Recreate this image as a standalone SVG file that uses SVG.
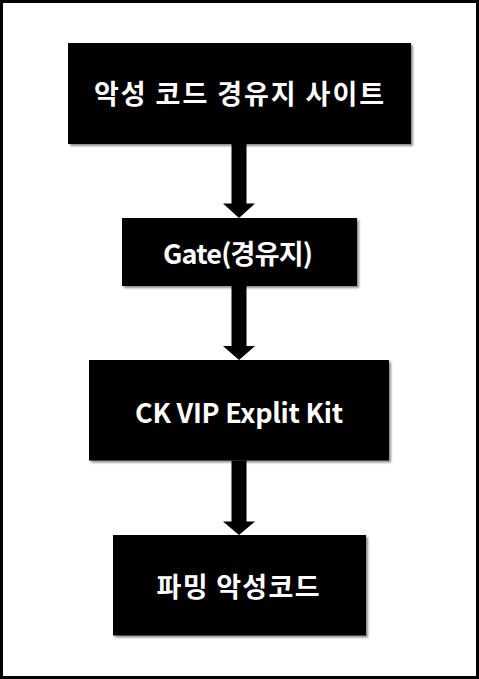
<svg xmlns="http://www.w3.org/2000/svg" width="479" height="679" viewBox="0 0 479 679">
<style>
.box{fill:#000;filter:url(#sh)}
.lbl{fill:#fff;font-family:"Malgun Gothic","Noto Sans CJK KR","Noto Sans",sans-serif;font-weight:bold;font-size:27px;text-anchor:middle;dominant-baseline:central}
.arr{fill:#000}
</style>
<defs>
<filter id="sh" x="-5%" y="-10%" width="115%" height="130%">
<feGaussianBlur in="SourceAlpha" stdDeviation="1"/>
<feOffset dx="1.5" dy="1.5" result="b"/>
<feComponentTransfer><feFuncA type="linear" slope="0.45"/></feComponentTransfer>
<feMerge><feMergeNode/><feMergeNode in="SourceGraphic"/></feMerge>
</filter>
</defs>
<rect x="0" y="0" width="479" height="679" fill="#fff"/>
<rect x="1.5" y="1.5" width="476" height="676" fill="none" stroke="#000" stroke-width="3"/>
<g id="connectors">
<polygon class="arr" points="231.5,144 246.5,144 246.5,203.5 255,203.5 239,218 223,203.5 231.5,203.5"/>
<polygon class="arr" points="231.5,286 246.5,286 246.5,346 255,346 239,360 223,346 231.5,346"/>
<polygon class="arr" points="231.5,460.5 246.5,460.5 246.5,521.5 255,521.5 239,535 223,521.5 231.5,521.5"/>
</g>
<g id="node1">
<rect class="box" x="68" y="43" width="343" height="101"/>
<text class="lbl" x="239" y="92" textLength="290" lengthAdjust="spacing">악성 코드 경유지 사이트</text>
</g>
<g id="node2">
<rect class="box" x="122" y="218" width="235" height="68"/>
<text class="lbl" x="238" y="252" textLength="150" lengthAdjust="spacing">Gate(경유지)</text>
</g>
<g id="node3">
<rect class="box" x="89" y="360" width="300" height="100.5"/>
<text class="lbl" x="239" y="411" textLength="208" lengthAdjust="spacing">CK VIP Explit Kit</text>
</g>
<g id="node4">
<rect class="box" x="113" y="535" width="253" height="100.5"/>
<text class="lbl" x="238" y="585" textLength="163" lengthAdjust="spacing">파밍 악성코드</text>
</g>
</svg>
